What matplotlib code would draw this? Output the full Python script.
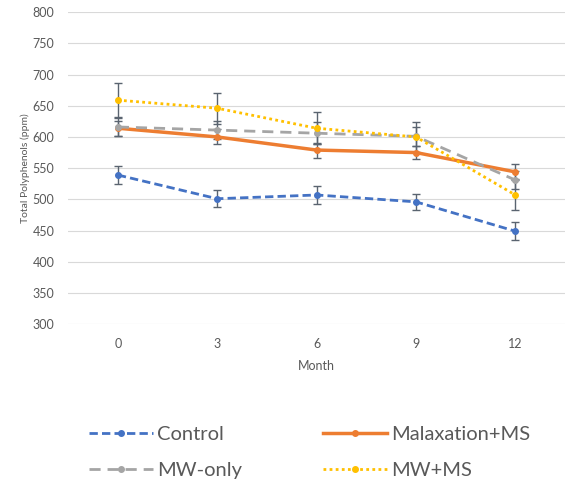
import matplotlib
matplotlib.use("Agg")
import matplotlib.pyplot as plt

months = ["0", "3", "6", "9", "12"]
control = [539, 501, 507, 496, 449]
control_err = [15, 14, 14, 13, 14]
malax = [614, 600, 579, 575, 544]
malax_err = [12, 12, 12, 11, 12]
mw_only = [616, 611, 606, 601, 531]
mw_only_err = [15, 15, 18, 15, 15]
mw_ms = [659, 646, 614, 600, 507]
mw_ms_err = [27, 25, 26, 24, 24]

plt.rcParams['font.family'] = ['Lato', 'DejaVu Sans']

fig = plt.figure(figsize=(5.73, 4.86), dpi=100)
ax = fig.add_axes([0.119, 0.333, 0.867, 0.642])

x = list(range(len(months)))
series = [
    ("Control", control, control_err, "#4472C4", (0, (3, 1.5)), 2.0),
    ("Malaxation+MS", malax, malax_err, "#ED7D31", "-", 2.5),
    ("MW-only", mw_only, mw_only_err, "#A5A5A5", (0, (4, 2.5)), 2.0),
    ("MW+MS", mw_ms, mw_ms_err, "#FFC000", (0, (1, 1.2)), 2.0),
]
handles = {}
for name, vals, err, col, ls, lw in series:
    ax.errorbar(x, vals, yerr=err, fmt='none', ecolor='#5a6470', elinewidth=1,
                capsize=3, capthick=1, zorder=2)
    h, = ax.plot(x, vals, color=col, linestyle=ls, linewidth=lw, marker='o',
                 markersize=4, label=name, zorder=3)
    handles[name] = h

ax.set_xlim(-0.5, len(months) - 0.5)
ax.set_ylim(300, 800)
ax.set_yticks(range(300, 801, 50))
ax.set_xticks(x)
ax.set_xticklabels(months)
ax.grid(axis='y', color='#D9D9D9', linewidth=0.8)
ax.set_axisbelow(True)
for s in ax.spines.values():
    s.set_visible(False)
ax.tick_params(length=0, labelsize=9, labelcolor='#595959', pad=10)
ax.set_xlabel("Month", fontsize=9, color='#595959', labelpad=7)
ax.set_ylabel("Total Polyphenols (ppm)", fontsize=7.5, color='#595959', labelpad=2)

order = ["Control", "MW-only", "Malaxation+MS", "MW+MS"]
fig.legend([handles[n] for n in order], order, ncol=2, loc='center',
           bbox_to_anchor=(0.54, 0.069), frameon=False, fontsize=14.5,
           labelcolor='#595959', handlelength=3.2, handletextpad=0.2,
           columnspacing=4.0, labelspacing=0.9)

fig.savefig("out.png", dpi=100)
